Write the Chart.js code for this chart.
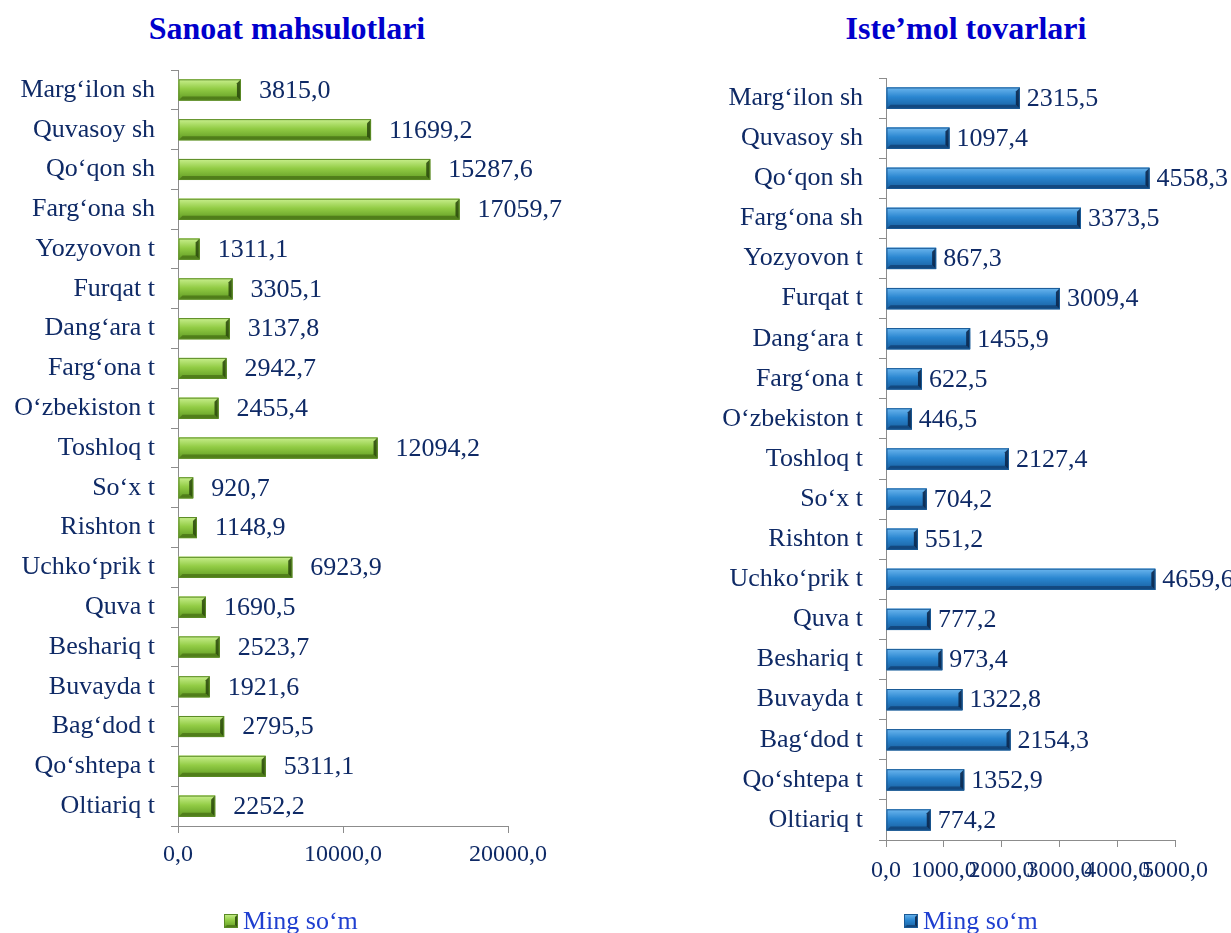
<!DOCTYPE html>
<html>
<head>
<meta charset="utf-8">
<script src="https://cdn.jsdelivr.net/npm/chart.js@4.4.0/dist/chart.umd.min.js"></script>
<style>
    body { margin: 0; background: #fff; width: 1231px; height: 933px; overflow: hidden; position: relative; }
    .title { position: absolute; top: 9px; margin: 0; font: bold 32px "Liberation Serif", serif; color: #0000cc; text-align: center; line-height: 38px; }
    .box { position: absolute; top: 0; height: 933px; }
</style>
</head>
<body>
<h2 class="title" style="left:87px;width:400px">Sanoat mahsulotlari</h2>
<h2 class="title" style="left:766px;width:400px">Iste’mol tovarlari</h2>
<div class="box" style="left:0;width:585px"><canvas id="left"></canvas></div>
<div class="box" style="left:705px;width:526px"><canvas id="right"></canvas></div>
<script>
const districts = [
    'Marg‘ilon sh', 'Quvasoy sh', 'Qo‘qon sh', 'Farg‘ona sh', 'Yozyovon t',
    'Furqat t', 'Dang‘ara t', 'Farg‘ona t', 'O‘zbekiston t', 'Toshloq t',
    'So‘x t', 'Rishton t', 'Uchko‘prik t', 'Quva t', 'Beshariq t',
    'Buvayda t', 'Bag‘dod t', 'Qo‘shtepa t', 'Oltiariq t'
];
const industryValues = [
    3815.0, 11699.2, 15287.6, 17059.7, 1311.1,
    3305.1, 3137.8, 2942.7, 2455.4, 12094.2,
    920.7, 1148.9, 6923.9, 1690.5, 2523.7,
    1921.6, 2795.5, 5311.1, 2252.2
];
const consumerValues = [
    2315.5, 1097.4, 4558.3, 3373.5, 867.3,
    3009.4, 1455.9, 622.5, 446.5, 2127.4,
    704.2, 551.2, 4659.6, 777.2, 973.4,
    1322.8, 2154.3, 1352.9, 774.2
];
const industryTicks = [0, 10000, 20000];
const consumerTicks = [0, 1000, 2000, 3000, 4000, 5000];
const seriesName = 'Ming so‘m';

const NAVY = '#0f2a66';
const SERIF = '"Liberation Serif", "Times New Roman", serif';

const fmt = v => v.toFixed(1).replace('.', ',');

function bevelRect(ctx, x0, y0, x1, y1, opts, bevel) {
    const h = y1 - y0;
    const b = Math.min(bevel, (x1 - x0) / 2, h / 2);
    const g = ctx.createLinearGradient(0, y0, 0, y1);
    g.addColorStop(0, opts.light);
    g.addColorStop(0.45, opts.mid);
    g.addColorStop(1, opts.dark);
    ctx.fillStyle = g;
    ctx.fillRect(x0, y0, x1 - x0, h);
    // top facet
    ctx.fillStyle = opts.top;
    ctx.beginPath();
    ctx.moveTo(x0, y0); ctx.lineTo(x1, y0); ctx.lineTo(x1 - b, y0 + b); ctx.lineTo(x0 + b, y0 + b);
    ctx.fill();
    // bottom facet
    ctx.fillStyle = opts.bottom;
    ctx.beginPath();
    ctx.moveTo(x0, y1); ctx.lineTo(x1, y1); ctx.lineTo(x1 - b, y1 - b); ctx.lineTo(x0 + b, y1 - b);
    ctx.fill();
    // right end
    ctx.fillStyle = opts.end;
    ctx.beginPath();
    ctx.moveTo(x1, y0); ctx.lineTo(x1, y1); ctx.lineTo(x1 - b, y1 - b); ctx.lineTo(x1 - b, y0 + b);
    ctx.fill();
    ctx.strokeStyle = opts.edge;
    ctx.lineWidth = 1;
    ctx.strokeRect(x0 + 0.5, y0 + 0.5, x1 - x0 - 1, h - 1);
}

// bevelled bars, value labels and the little legend under the axis
const bevelPlugin = {
    id: 'bevel',
    afterDatasetsDraw(chart, args, opts) {
        const ctx = chart.ctx;
        const meta = chart.getDatasetMeta(0);
        ctx.save();
        meta.data.forEach((bar, i) => {
            const h = bar.height;
            bevelRect(ctx, bar.base, bar.y - h / 2, bar.x, bar.y + h / 2, opts, 4);

            ctx.fillStyle = NAVY;
            ctx.font = '26px ' + SERIF;
            ctx.textBaseline = 'middle';
            ctx.textAlign = 'left';
            ctx.fillText(fmt(chart.data.datasets[0].data[i]), bar.x + opts.gap, bar.y + 1);
        });

        // legend
        const lx = opts.legendX, ly = opts.legendY;
        bevelRect(ctx, lx, ly - 7, lx + 14, ly + 7, opts, 3);
        ctx.fillStyle = '#1f3fd0';
        ctx.font = '26px ' + SERIF;
        ctx.textBaseline = 'middle';
        ctx.textAlign = 'left';
        ctx.fillText(chart.data.datasets[0].label, lx + 19, ly + 1);
        ctx.restore();
    }
};

function makeChart(canvasId, values, tickValues, max, style) {
    return new Chart(document.getElementById(canvasId), {
        type: 'bar',
        data: {
            labels: districts,
            datasets: [{
                label: seriesName,
                data: values,
                backgroundColor: style.mid,
                borderWidth: 0,
                barPercentage: 0.53,
                categoryPercentage: 1
            }]
        },
        options: {
            indexAxis: 'y',
            responsive: true,
            maintainAspectRatio: false,
            animation: false,
            layout: { padding: { top: style.top, right: style.right, bottom: 0, left: 0 } },
            plugins: {
                legend: { display: false },
                tooltip: { enabled: false },
                bevel: style
            },
            scales: {
                x: {
                    min: 0,
                    max: max,
                    afterBuildTicks: s => { s.ticks = tickValues.map(v => ({ value: v })); },
                    afterFit: s => { s.height = style.xHeight; },
                    grid: { drawOnChartArea: false, tickLength: 7, color: '#8c8c8c' },
                    border: { color: '#8c8c8c' },
                    ticks: {
                        autoSkip: false,
                        maxRotation: 0,
                        padding: style.tickPad,
                        color: NAVY,
                        font: { family: SERIF, size: 24 },
                        callback: v => fmt(v)
                    }
                },
                y: {
                    afterFit: s => { s.width = style.yWidth; },
                    grid: { drawOnChartArea: false, tickLength: 7, color: '#8c8c8c' },
                    border: { color: '#8c8c8c' },
                    ticks: {
                        padding: 16,
                        color: NAVY,
                        font: { family: SERIF, size: 26 }
                    }
                }
            }
        },
        plugins: [bevelPlugin]
    });
}

makeChart('left', industryValues, industryTicks, 20000, {
    light: '#c9ef8e', mid: '#92cc45', dark: '#5f9a22',
    top: 'rgba(230,250,200,0.75)', bottom: 'rgba(70,110,20,0.7)', end: 'rgba(40,70,10,0.85)', edge: '#5a8a25',
    gap: 18, top: 70, right: 77, xHeight: 107, yWidth: 178, tickPad: 7,
    legendX: 224, legendY: 921
});

makeChart('right', consumerValues, consumerTicks, 5000, {
    light: '#6cb6ee', mid: '#2a86d0', dark: '#185e9e',
    top: 'rgba(190,225,250,0.7)', bottom: 'rgba(15,60,110,0.7)', end: 'rgba(10,35,70,0.85)', edge: '#1a5a96',
    gap: 7, top: 78, right: 56, xHeight: 93, yWidth: 181, tickPad: 9,
    legendX: 199, legendY: 921
});
</script>
</body>
</html>
